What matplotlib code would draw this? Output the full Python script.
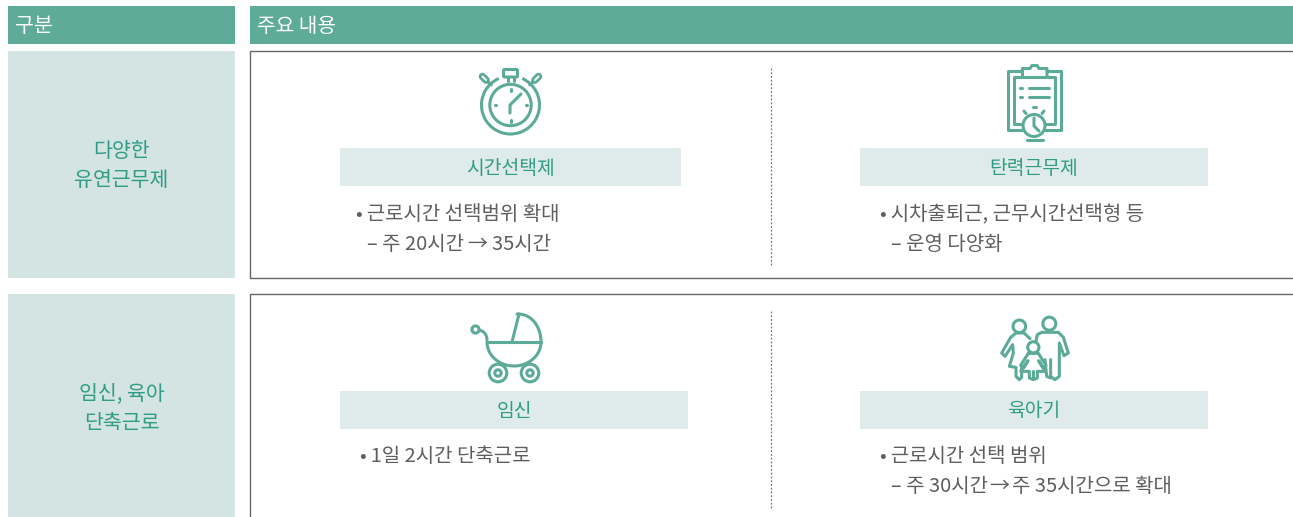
"""Work-hours table: flexible work schemes, drawn in pixel coordinates."""
import numpy as np
import matplotlib
matplotlib.use("Agg")
import matplotlib.pyplot as plt
from matplotlib.patches import Rectangle, Circle, Arc, FancyBboxPatch

plt.rcParams["font.family"] = ["Noto Sans CJK KR", "DejaVu Sans"]

HEAD = "#5EAB99"
PALE = "#D3E4E2"
BAR = "#DFEBEA"
TEAL = "#2F9C86"
ICON = "#5CAA98"
INK = "#5E5E5E"
EDGE = "#666666"

# ---- table text ----
HEADERS = ["구분", "주요 내용"]
ROW_LABELS = ["다양한\n유연근무제", "임신, 육아\n단축근로"]
CELL_TITLES = ["시간선택제", "탄력근무제", "임신", "육아기"]
CELL_LINES = [
    ["•\u2009근로시간 선택범위 확대", "– 주 20시간\u2009→\u200935시간"],
    ["•\u2009시차출퇴근, 근무시간선택형 등", "– 운영 다양화"],
    ["•\u20091일 2시간 단축근로"],
    ["•\u2009근로시간 선택 범위", "– 주 30시간\u200a→\u200a주 35시간으로 확대"],
]

fig = plt.figure(figsize=(12.93, 5.17), dpi=100)
ax = fig.add_axes([0, 0, 1, 1])
ax.set_xlim(0, 1293)
ax.set_ylim(517, 0)
ax.axis("off")

LW = 2.2  # icon stroke, points


def rect(x0, y0, x1, y1, fc="none", ec="none", lw=1.0, z=1):
    ax.add_patch(Rectangle((x0, y0), x1 - x0, y1 - y0, fc=fc, ec=ec, lw=lw, zorder=z))


def line(xs, ys, color=ICON, lw=LW, z=4):
    ax.plot(xs, ys, color=color, lw=lw, solid_capstyle="round",
            solid_joinstyle="round", zorder=z)


def circle(x, y, r, fc="none", lw=LW, z=4):
    ax.add_patch(Circle((x, y), r, fc=fc, ec=ICON, lw=lw, zorder=z))


def stopwatch():
    cx, cy = 510.5, 105
    # y axis is inverted so arc angles run clockwise on screen
    ax.add_patch(Arc((cx, cy), 58, 58, theta1=-66, theta2=246, ec=ICON, lw=LW, zorder=4))
    circle(cx, cy, 20.7)
    ax.add_patch(FancyBboxPatch((503.5, 69.5), 14, 7.5, boxstyle="round,pad=0,rounding_size=1.2",
                                fc="white", ec=ICON, lw=LW, zorder=4))
    line([507.5, 507.5], [77, 81])
    line([513.5, 513.5], [77, 81])
    for sign in (-1, 1):
        kx, ky = cx + sign * 26.2, 78.3
        ax.plot([kx - 1.8, kx + 1.8], [ky + 1.8 * sign, ky - 1.8 * sign], color=ICON, lw=5.4,
                solid_capstyle="round", zorder=4)
        ax.plot([kx - 1.8, kx + 1.8], [ky + 1.8 * sign, ky - 1.8 * sign], color="white", lw=1.4,
                solid_capstyle="round", zorder=5)
        line([kx - sign * 3.5, kx - sign * 7], [ky + 3.5, ky + 6.5])
    line([cx, cx], [88.5, 90.5])
    line([cx, cx], [119.5, 121.5])
    line([cx - 16, cx - 14.5], [cy, cy])
    line([cx + 15, cx + 16.5], [cy, cy])
    line([cx - 0.5, cx - 0.5, cx + 10.5], [113, 105, 94])


def clipboard():
    line([1022, 1008, 1008, 1023], [71, 71, 130, 130])
    line([1047, 1061, 1061, 1045], [71, 71, 130, 130])
    line([1022, 1014, 1014, 1023], [76.5, 76.5, 124, 124])
    line([1047, 1055, 1055, 1045], [76.5, 76.5, 124, 124])
    line([1022.5, 1022.5, 1030, 1032, 1037, 1039, 1047, 1047, 1022.5],
         [77.5, 68.5, 68.5, 65.5, 65.5, 68.5, 68.5, 77.5, 77.5])
    for y in (87.5, 97):
        line([1020, 1022], [y, y])
        line([1029, 1049], [y, y])
    circle(1034, 125.5, 11, fc="white")
    line([1034, 1034, 1039], [118, 126, 131])
    line([1032.5, 1035.5], [107, 107])
    line([1024, 1026], [111, 113.5])
    line([1044, 1042], [111, 113.5])
    line([1026.5, 1042.5], [140, 140])


def stroller():
    t = np.linspace(0, np.pi, 50)
    line(514 + 27 * np.cos(t), 342 + 24 * np.sin(t))
    line([487, 541], [342, 342])
    t = np.linspace(-np.pi / 2, 0, 40)
    line([512, 519], [342, 314])
    line(517 + 24 * np.cos(t) ** 0.9, 342 + 28 * np.sin(t))
    circle(475.5, 329.5, 3.6)
    t = np.linspace(-np.pi / 2, 0, 20)
    line(479.5 + 7.5 * np.cos(t), 340 + 9.5 * np.sin(t))
    for x in (498, 530):
        circle(x, 373, 8.8)
        circle(x, 373, 3.2)


def family():
    def fam(pts):
        pts = np.array(pts, dtype=float)
        line(980 + pts[:, 0] / 3, 308 + pts[:, 1] / 3)

    circle(980 + 208 / 3, 308 + 47 / 3, 6.5)
    circle(980 + 118 / 3, 308 + 55 / 3, 6.3)
    circle(980 + 160 / 3, 308 + 118 / 3, 5.6)
    # father
    fam([(168, 100), (172, 80), (185, 73), (235, 73), (250, 88), (265, 135), (252, 143),
         (238, 105), (238, 205), (225, 215), (212, 205), (212, 155)])
    fam([(195, 155), (200, 205), (212, 210)])
    # mother
    fam([(150, 92), (132, 75), (108, 75), (92, 88), (65, 135), (75, 145), (98, 110),
         (100, 135), (88, 175), (108, 178), (108, 205), (118, 215), (125, 208), (125, 178)])
    # child
    fam([(145, 136), (175, 136), (198, 172), (188, 178), (176, 158), (196, 190), (172, 190),
         (172, 210), (160, 215), (148, 210), (148, 190), (122, 190), (144, 158), (132, 178),
         (122, 172), (145, 136)])
    fam([(160, 190), (160, 212)])


# ---- header row ----
rect(8, 6, 235, 44, fc=HEAD)
rect(250, 6, 1293, 44, fc=HEAD)
ax.text(15, 26.5, HEADERS[0], color="white", fontsize=14.8, va="center", ha="left")
ax.text(257, 26.5, HEADERS[1], color="white", fontsize=14.6, va="center", ha="left")

# ---- rows ----
rows = [(51, 278), (294, 517)]
boxes = [(51.3, 278), (294, 530)]
label_y = [165.5, 408.5]
for (y0, y1), (b0, b1), label, ly in zip(rows, boxes, ROW_LABELS, label_y):
    rect(8, y0, 235, y1, fc=PALE)
    rect(250.2, b0, 1300, b1, ec=EDGE, lw=1.0, fc="white")
    ax.text(121.5, ly, label, color=TEAL, fontsize=14.8, ha="center",
            va="center", linespacing=1.42)
    ax.plot([771.2, 771.2], [y0 + 17, y0 + 215], color="#777777", lw=0.9,
            ls=(0, (1.5, 1.5)), zorder=2)

# ---- cell title bars ----
bars = [(340, 148, 681, 186), (860, 148, 1208, 186), (340, 391, 688, 429), (860, 391, 1208, 429)]
for (x0, y0, x1, y1), title in zip(bars, CELL_TITLES):
    rect(x0, y0, x1, y1, fc=BAR, z=2)
    ax.text((x0 + x1) / 2, (y0 + y1) / 2 + 1, title, color=TEAL, fontsize=13.9, ha="center",
            va="center", zorder=3)

# ---- cell text ----
starts = [(356, 215), (880, 215), (360, 457), (880, 457)]
for (x, y), lines in zip(starts, CELL_LINES):
    for i, s in enumerate(lines):
        ax.text(x + (11 if i else 0), y + 30 * i, s, color=INK, fontsize=14.4, ha="left",
                va="center", zorder=3)

stopwatch()
clipboard()
stroller()
family()

fig.savefig("out.png", dpi=100, facecolor="white")
